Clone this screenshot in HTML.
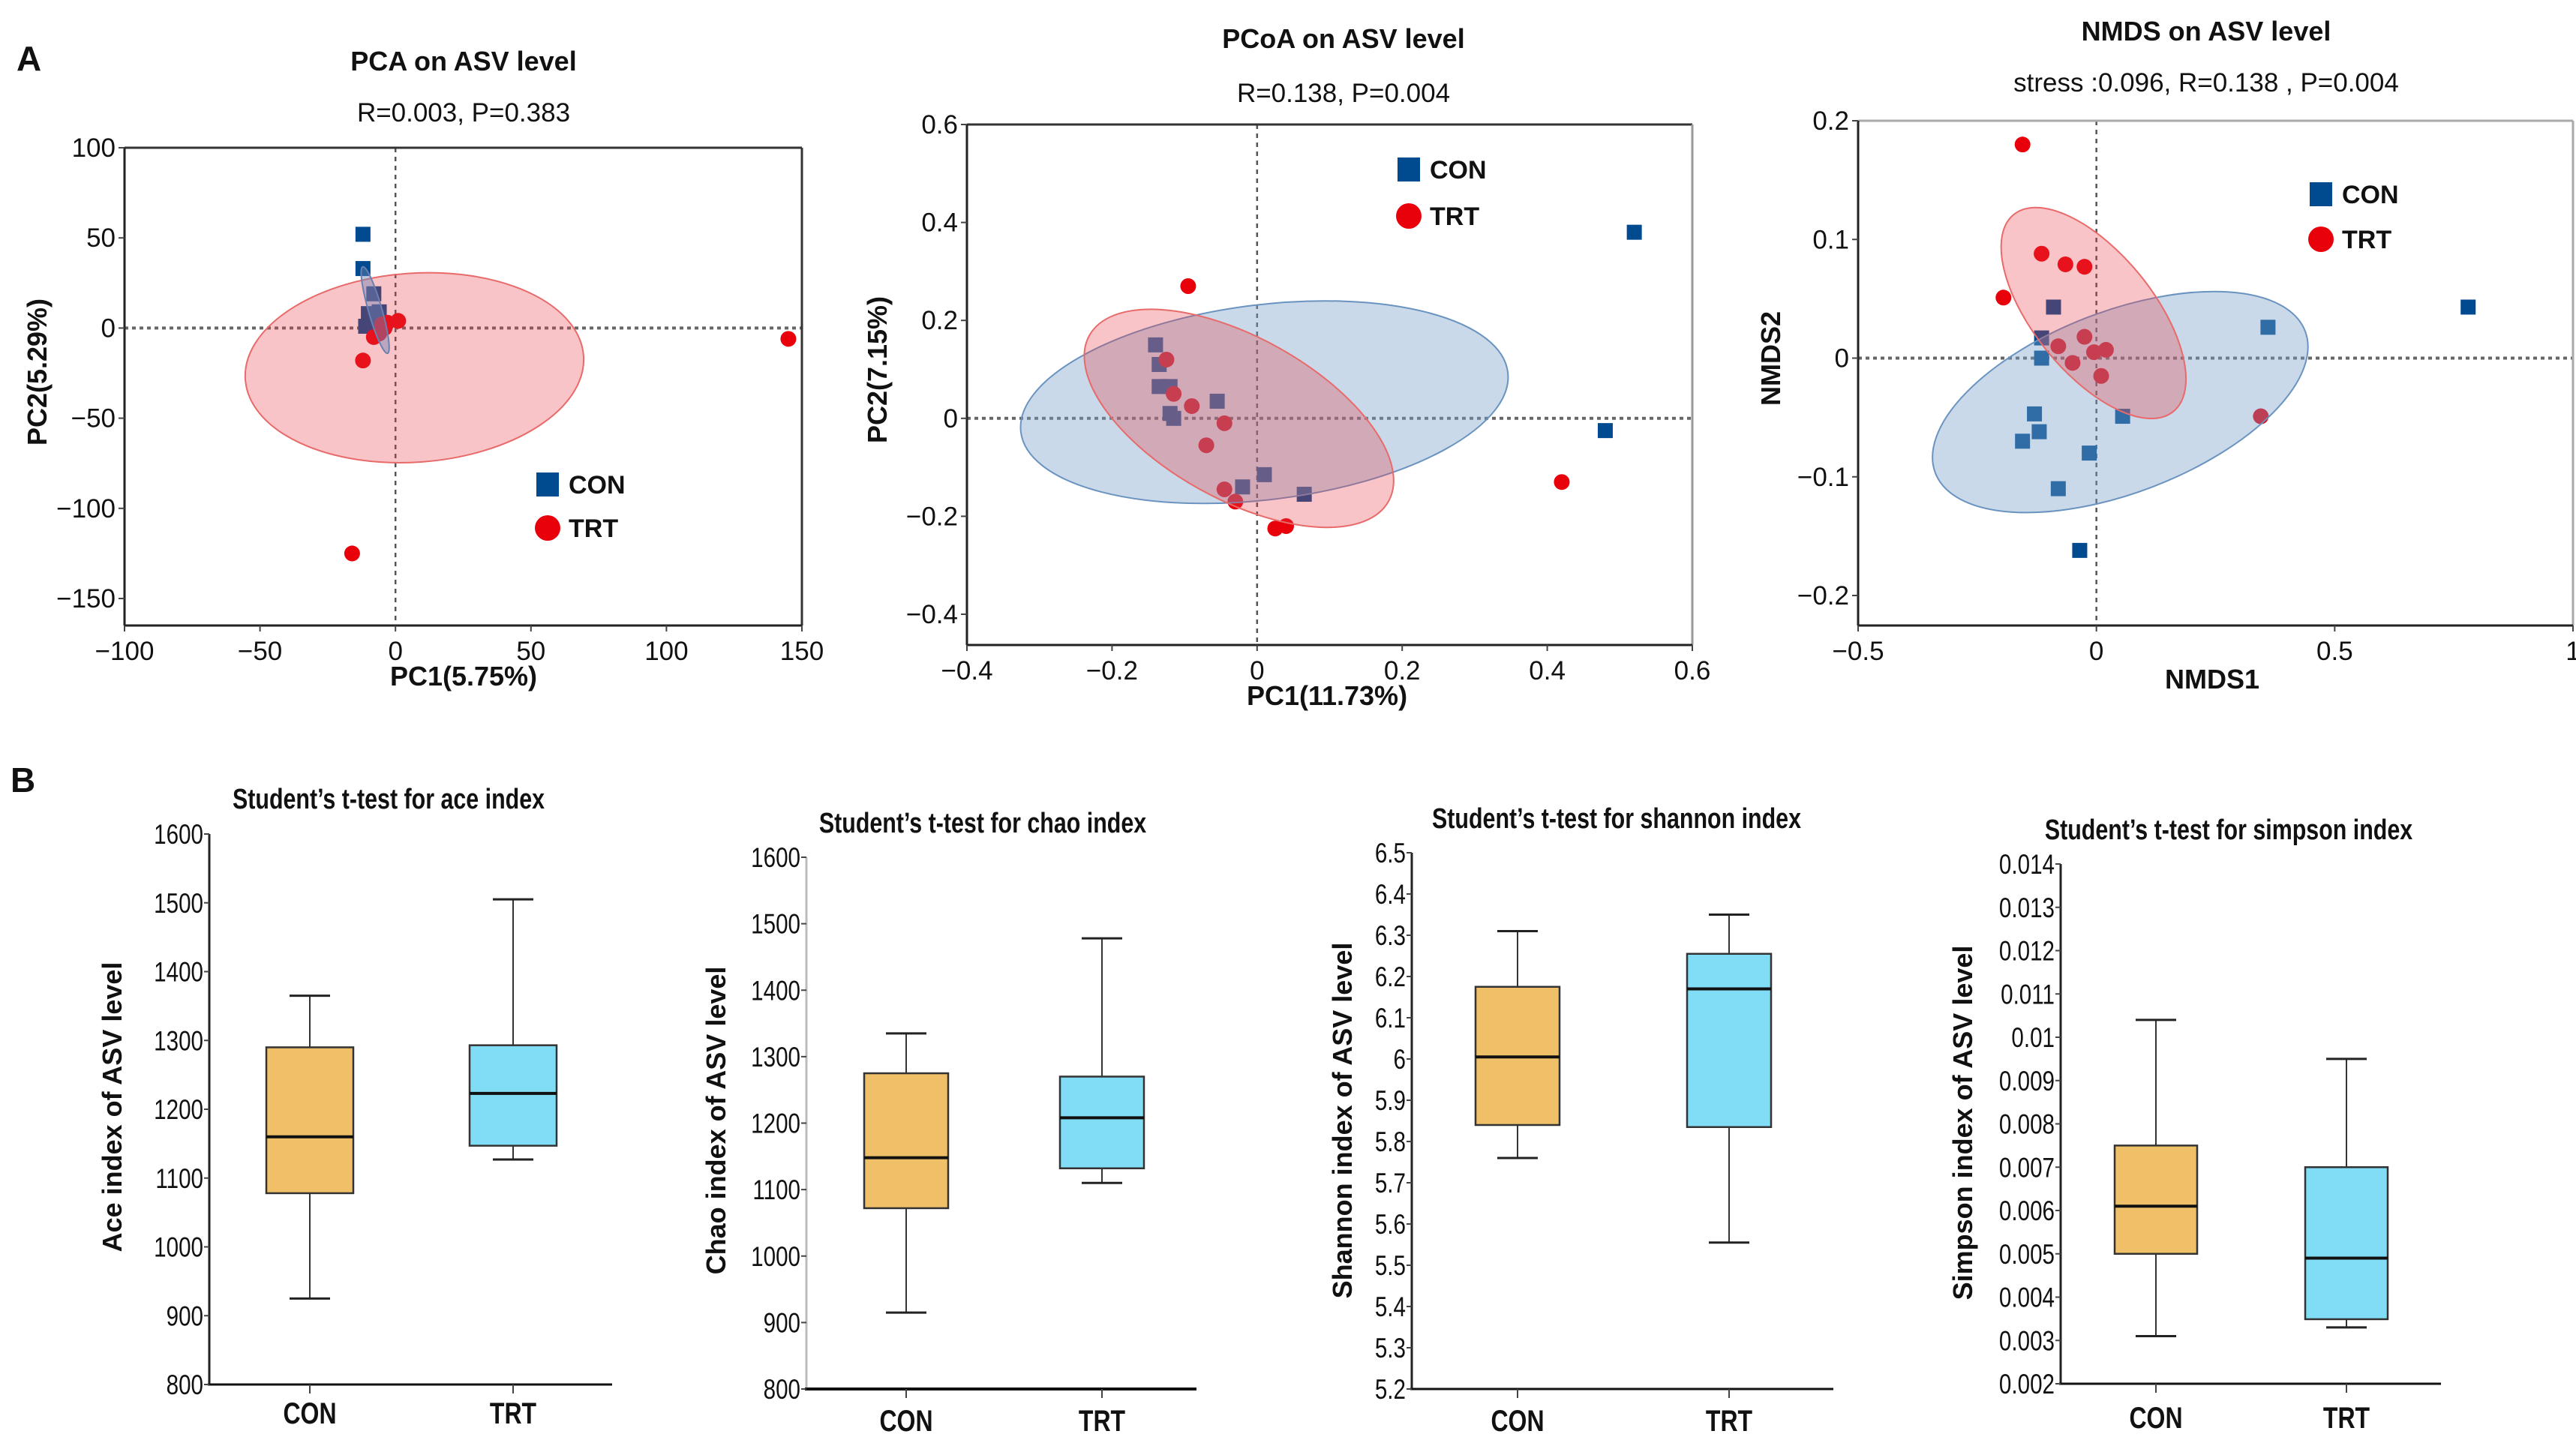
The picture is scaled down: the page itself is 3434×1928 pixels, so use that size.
<!DOCTYPE html>
<html><head><meta charset="utf-8">
<style>
html,body{margin:0;padding:0;background:#fff;}
svg{display:block;}
text{font-family:"Liberation Sans",sans-serif;fill:#111;}
</style></head>
<body>
<svg id="fig" width="3434" height="1928" viewBox="0 0 3434 1928" xmlns="http://www.w3.org/2000/svg">
<text x="22" y="94" font-size="46" font-weight="bold">A</text>
<text x="14" y="1056" font-size="46" font-weight="bold">B</text>
</svg>
<script>
// ---- PCA data ----
const pcaConX = [-12,-12,-8,-10,-6,-11,-7,-5,-6];
const pcaConY = [52,33,19,8,9,1,5,2,7];
const pcaTrtX = [145,-12,-16,-8,-5,-3,1,-6,-4];
const pcaTrtY = [-6,-18,-125,-5,2,3,4,-3,0];
const pcaXTicks = [-100,-50,0,50,100,150];
const pcaYTicks = [100,50,0,-50,-100,-150];
// ---- PCoA data ----
const pcoaConX = [0.52,0.48,-0.14,-0.135,-0.135,-0.12,-0.12,-0.115,-0.055,0.01,-0.02,0.065];
const pcoaConY = [0.38,-0.025,0.15,0.11,0.065,0.065,0.01,0,0.035,-0.115,-0.14,-0.155];
const pcoaTrtX = [-0.095,-0.125,-0.115,-0.09,-0.045,-0.07,-0.045,-0.03,0.025,0.04,0.42];
const pcoaTrtY = [0.27,0.12,0.05,0.025,-0.01,-0.055,-0.145,-0.17,-0.225,-0.22,-0.13];
const pcoaXTicks = [-0.4,-0.2,0,0.2,0.4,0.6];
const pcoaYTicks = [0.6,0.4,0.2,0,-0.2,-0.4];
// ---- NMDS data ----
const nmdsConX = [0.78,0.36,-0.09,-0.115,-0.115,-0.13,-0.12,-0.155,-0.015,0.055,-0.08,-0.035];
const nmdsConY = [0.043,0.026,0.043,0.017,0,-0.047,-0.062,-0.07,-0.08,-0.049,-0.11,-0.162];
const nmdsTrtX = [-0.155,-0.115,-0.065,-0.025,-0.195,-0.025,-0.08,-0.005,0.02,-0.05,0.01,0.345];
const nmdsTrtY = [0.18,0.088,0.079,0.077,0.051,0.018,0.01,0.005,0.007,-0.004,-0.015,-0.049];
const nmdsXTicks = [-0.5,0,0.5,1];
const nmdsYTicks = [0.2,0.1,0,-0.1,-0.2];
// ---- box plot data [min,q1,median,q3,max] ----
const boxGroups = ["CON","TRT"];
const aceCon = [925,1078,1160,1290,1365];
const aceTrt = [1127,1147,1223,1293,1505];
const chaoCon = [915,1072,1148,1275,1335];
const chaoTrt = [1110,1132,1208,1270,1478];
const shannonCon = [5.76,5.84,6.005,6.175,6.31];
const shannonTrt = [5.555,5.835,6.17,6.255,6.35];
const simpsonCon = [0.0031,0.0050,0.0061,0.0075,0.0104];
const simpsonTrt = [0.0033,0.00349,0.0049,0.0070,0.0095];
const aceTicks = [1600,1500,1400,1300,1200,1100,1000,900,800];
const chaoTicks = [1600,1500,1400,1300,1200,1100,1000,900,800];
const shannonTicks = [6.5,6.4,6.3,6.2,6.1,6,5.9,5.8,5.7,5.6,5.5,5.4,5.3,5.2];
const simpsonTicks = [0.014,0.013,0.012,0.011,0.01,0.009,0.008,0.007,0.006,0.005,0.004,0.003,0.002];

const NS = "http://www.w3.org/2000/svg";
const svg = document.getElementById('fig');
function mk(tag, attrs, parent){
  const e = document.createElementNS(NS, tag);
  for (const k in attrs) e.setAttribute(k, attrs[k]);
  (parent||svg).appendChild(e);
  return e;
}
function txt(s, attrs, parent){ const t = mk('text', attrs, parent); t.textContent = s; return t; }
// narrow text: horizontally condensed
function ntxt(s, x, y, attrs, parent){
  attrs.x = 0; attrs.y = 0; attrs.transform = `translate(${x},${y}) scale(0.8,1)`;
  return txt(s, attrs, parent);
}
function lin(d0,d1,p0,p1){ return v => p0 + (v-d0)/(d1-d0)*(p1-p0); }
function fmt(v){ return String(v).replace('-', '\u2212'); }

function scatter(c){
  const g = mk('g', {});
  
  
  const X = lin(c.xd[0], c.xd[1], c.xp[0], c.xp[1]);
  const Y = lin(c.yd[0], c.yd[1], c.yp[0], c.yp[1]);
  const t1 = txt(c.title, {x:c.tx, y:c.ty, 'font-size':36, 'font-weight':'bold', 'text-anchor':'middle'}, g);
  
  
  const t2 = txt(c.sub, {x:c.tx, y:c.sy, 'font-size':35, 'text-anchor':'middle'}, g);
  
  
  mk('line', {x1:X(0), x2:X(0), y1:c.top, y2:c.bottom, stroke:'#555', 'stroke-width':2.5, 'stroke-dasharray':'6,6'}, g);
  mk('line', {x1:c.left, x2:c.right, y1:Y(0), y2:Y(0), stroke:'#666', 'stroke-width':4, 'stroke-dasharray':'5,5'}, g);
  c.cx.forEach((v,i)=>{
    const r = mk('rect', {x:X(v)-10, y:Y(c.cy[i])-10, width:20, height:20, fill:'#004A8F'}, g);
    
    
  });
  c.rx.forEach((v,i)=>{
    const r = mk('circle', {cx:X(v), cy:Y(c.ry[i]), r:10.5, fill:'#E8000B'}, g);
    
    
  });
  c.ells.forEach(e=>{
    const el = mk('ellipse', {cx:0, cy:0, rx:e.a, ry:e.b, fill:e.fill, stroke:e.stroke, 'stroke-width':2,
      transform:`translate(${X(e.x)},${Y(e.y)}) rotate(${e.ang})`}, g);
    
    
  });
  mk('line', {x1:c.left, x2:c.right, y1:c.top, y2:c.top, stroke:c.topCol||'#333', 'stroke-width':3}, g);
  mk('line', {x1:c.right, x2:c.right, y1:c.top, y2:c.bottom, stroke:c.rightCol||'#333', 'stroke-width':3}, g);
  mk('line', {x1:c.left, x2:c.left, y1:c.top, y2:c.bottom, stroke:'#222', 'stroke-width':3}, g);
  mk('line', {x1:c.left, x2:c.right, y1:c.bottom, y2:c.bottom, stroke:'#222', 'stroke-width':3}, g);
  c.xt.forEach(v=>{
    mk('line', {x1:X(v), x2:X(v), y1:c.bottom, y2:c.bottom+8, stroke:'#444', 'stroke-width':2}, g);
    const t = txt(fmt(v), {x:X(v), y:c.bottom+46, 'font-size':35, 'text-anchor':'middle'}, g);
    
    
  });
  c.yt.forEach(v=>{
    mk('line', {x1:c.left-8, x2:c.left, y1:Y(v), y2:Y(v), stroke:'#444', 'stroke-width':2}, g);
    const t = txt(fmt(v), {x:c.left-12, y:Y(v)+12, 'font-size':35, 'text-anchor':'end'}, g);
    
    
  });
  const xl = txt(c.xlab, {x:c.xlx, y:c.xly, 'font-size':36, 'font-weight':'bold', 'text-anchor':'middle'}, g);
  
  
  const yl = txt(c.ylab, {x:0, y:0, 'font-size':36, 'font-weight':'bold', 'text-anchor':'middle', transform:`translate(${c.ylx},${c.yly}) rotate(-90)`}, g);
  
  
  const lg = mk('g', {}, g);
  
  
  mk('rect', {x:c.lgx-15, y:c.lgy-16, width:30, height:32, fill:'#004A8F'}, lg);
  txt('CON', {x:c.lgx+28, y:c.lgy+12, 'font-size':34, 'font-weight':'bold'}, lg);
  mk('circle', {cx:c.lgx, cy:c.lgy+c.lgd, r:17, fill:'#E8000B'}, lg);
  txt('TRT', {x:c.lgx+28, y:c.lgy+c.lgd+12, 'font-size':34, 'font-weight':'bold'}, lg);
}
const RED_F='rgba(232,60,70,0.30)', RED_S='#E86A6A', BLUE_F='rgba(120,160,200,0.40)', BLUE_S='#6A93C0';

scatter({name:'pca-plot', title:'PCA on ASV level', sub:'R=0.003, P=0.383', tx:618, ty:94, sy:162,
  left:166, right:1069, top:197, bottom:834, xd:[-100,150], xp:[166,1069], yd:[100,-150], yp:[197,798],
  cx:pcaConX, cy:pcaConY, rx:pcaTrtX, ry:pcaTrtY, xt:pcaXTicks, yt:pcaYTicks,
  ells:[{nm:'trt-ellipse', x:7, y:-22, a:226, b:126, ang:-4, fill:RED_F, stroke:RED_S},
        {nm:'con-ellipse', x:-7.5, y:10, a:60, b:9, ang:74, fill:'rgba(110,130,180,0.45)', stroke:'#6A80B0'}],
  xlab:'PC1(5.75%)', xlx:618, xly:914, ylab:'PC2(5.29%)', ylx:62, yly:496, lgx:730, lgy:646, lgd:58});

scatter({name:'pcoa-plot', title:'PCoA on ASV level', sub:'R=0.138, P=0.004', tx:1791, ty:64, sy:136,
  left:1289, right:2256, top:166, bottom:860, xd:[-0.4,0.6], xp:[1289,2256], yd:[0.6,-0.4], yp:[166,819],
  cx:pcoaConX, cy:pcoaConY, rx:pcoaTrtX, ry:pcoaTrtY, xt:pcoaXTicks, yt:pcoaYTicks, topCol:'#333', rightCol:'#999',
  ells:[{nm:'con-ellipse', x:0.01, y:0.033, a:327, b:130, ang:-7, fill:BLUE_F, stroke:BLUE_S},
        {nm:'trt-ellipse', x:-0.025, y:0.0, a:228, b:108, ang:29, fill:RED_F, stroke:RED_S}],
  xlab:'PC1(11.73%)', xlx:1769, xly:940, ylab:'PC2(7.15%)', ylx:1182, yly:493, lgx:1878, lgy:226, lgd:62});

scatter({name:'nmds-plot', title:'NMDS on ASV level', sub:'stress :0.096, R=0.138 , P=0.004', tx:2941, ty:54, sy:122,
  left:2477, right:3430, top:161, bottom:834, xd:[-0.5,1], xp:[2477,3430], yd:[0.2,-0.2], yp:[161,794],
  cx:nmdsConX, cy:nmdsConY, rx:nmdsTrtX, ry:nmdsTrtY, xt:nmdsXTicks, yt:nmdsYTicks, topCol:'#aaa', rightCol:'#aaa',
  ells:[{nm:'con-ellipse', x:0.05, y:-0.037, a:264, b:121, ang:-21, fill:BLUE_F, stroke:BLUE_S},
        {nm:'trt-ellipse', x:-0.006, y:0.038, a:169, b:80, ang:51, fill:RED_F, stroke:RED_S}],
  xlab:'NMDS1', xlx:2949, xly:918, ylab:'NMDS2', ylx:2373, yly:478, lgx:3094, lgy:259, lgd:60});

function boxplot(c){
  const g = mk('g', {});
  
  
  const Y = lin(c.yd[0], c.yd[1], c.yp[0], c.yp[1]);
  const t = ntxt(c.title, c.tx, c.ty, {'font-size':38, 'font-weight':'bold', 'text-anchor':'middle'}, g);
  
  
  const base = Y(c.yd[1]);
  mk('line', {x1:c.left, x2:c.left, y1:Y(c.yd[0]), y2:base, stroke:c.axCol||'#222', 'stroke-width':3}, g);
  mk('line', {x1:c.left-2, x2:c.right, y1:base, y2:base, stroke:'#111', 'stroke-width':c.bw||3}, g);
  c.ticks.forEach(v=>{
    mk('line', {x1:c.left-7, x2:c.left, y1:Y(v), y2:Y(v), stroke:'#444', 'stroke-width':2}, g);
    const tl = ntxt(String(v), c.left-8, Y(v)+13, {'font-size':37, 'text-anchor':'end'}, g);
    
    
  });
  const yl = txt(c.ylab, {x:0, y:0, 'font-size':36, 'font-weight':'bold', 'text-anchor':'middle', transform:`translate(${c.ylx},${c.yly}) rotate(-90)`}, g);
  
  
  [c.con, c.trt].forEach((d,i)=>{
    const x = c.xs[i], hw = c.hw;
    const bx = mk('g', {}, g);
    
    
    mk('line', {x1:x, x2:x, y1:Y(d[4]), y2:Y(d[3]), stroke:'#333', 'stroke-width':2}, bx);
    mk('line', {x1:x, x2:x, y1:Y(d[1]), y2:Y(d[0]), stroke:'#333', 'stroke-width':2}, bx);
    mk('line', {x1:x-27, x2:x+27, y1:Y(d[4]), y2:Y(d[4]), stroke:'#222', 'stroke-width':3}, bx);
    mk('line', {x1:x-27, x2:x+27, y1:Y(d[0]), y2:Y(d[0]), stroke:'#222', 'stroke-width':3}, bx);
    mk('rect', {x:x-hw, y:Y(d[3]), width:2*hw, height:Y(d[1])-Y(d[3]), fill:i?'#80DDF5':'#F0C068', stroke:'#333', 'stroke-width':2.5}, bx);
    mk('line', {x1:x-hw, x2:x+hw, y1:Y(d[2]), y2:Y(d[2]), stroke:'#111', 'stroke-width':4}, bx);
    mk('line', {x1:x, x2:x, y1:base, y2:base+12, stroke:'#444', 'stroke-width':2}, g);
    const lb = ntxt(boxGroups[i], x, c.ly, {'font-size':40, 'font-weight':'bold', 'text-anchor':'middle'}, g);
    
    
  });
}
boxplot({name:'ace-boxplot', title:'Student\u2019s t-test for ace index', tx:518, ty:1078, left:279, right:816,
  yd:[1600,800], yp:[1112,1846], ticks:aceTicks, con:aceCon, trt:aceTrt, xs:[413,684], hw:58, ly:1898,
  ylab:'Ace index of ASV level', ylx:162, yly:1476});
boxplot({name:'chao-boxplot', title:'Student\u2019s t-test for chao index', tx:1310, ty:1110, left:1075, right:1595,
  yd:[1600,800], yp:[1143,1852], ticks:chaoTicks, con:chaoCon, trt:chaoTrt, xs:[1208,1469], hw:56, ly:1908, bw:4, axCol:'#bbb',
  ylab:'Chao index of ASV level', ylx:967, yly:1494});
boxplot({name:'shannon-boxplot', title:'Student\u2019s t-test for shannon index', tx:2155, ty:1104, left:1882, right:2444,
  yd:[6.5,5.2], yp:[1137,1852], ticks:shannonTicks, con:shannonCon, trt:shannonTrt, xs:[2023,2305], hw:56, ly:1908,
  ylab:'Shannon index of ASV level', ylx:1802, yly:1494});
boxplot({name:'simpson-boxplot', title:'Student\u2019s t-test for simpson index', tx:2971, ty:1119, left:2747, right:3254,
  yd:[0.014,0.002], yp:[1152,1845], ticks:simpsonTicks, con:simpsonCon, trt:simpsonTrt, xs:[2874,3128], hw:55, ly:1904,
  ylab:'Simpson index of ASV level', ylx:2629, yly:1497});
</script>
</body></html>
